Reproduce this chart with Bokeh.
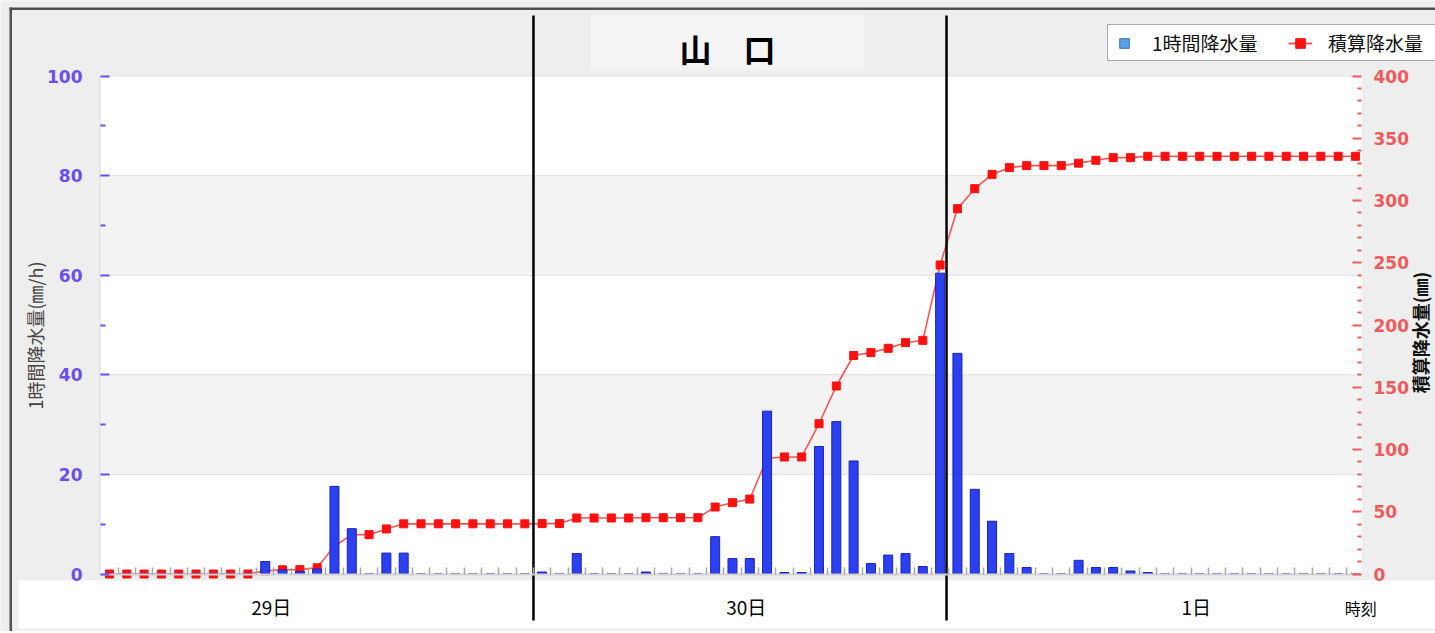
import math
from bokeh.plotting import figure
from bokeh.models import (Range1d, LinearAxis, FixedTicker, BoxAnnotation, Label, Legend,
                          LegendItem, ColumnDataSource)
from bokeh.core.properties import value
from bokeh.embed import file_html
from bokeh.resources import INLINE

# ---------------- data ----------------
hours = list(range(73))  # hourly slots from 29日 01時
hourly_mm = [0, 0, 0, 0, 0, 0, 0, 0, 0, 2.5,
             0.8, 0.5, 1.0, 17.6, 9.1, 0, 4.2, 4.2, 0, 0,
             0, 0, 0, 0, 0, 0.4, 0, 4.1, 0, 0,
             0, 0.4, 0, 0, 0, 7.5, 3.1, 3.1, 32.7, 0.3,
             0.3, 25.6, 30.6, 22.7, 2.1, 3.8, 4.1, 1.5, 60.4, 44.3,
             17.0, 10.6, 4.1, 1.3, 0, 0, 2.75, 1.3, 1.3, 0.6,
             0.3, 0, 0, 0, 0, 0, 0, 0, 0, 0,
             0, 0, 0]
cumulative_mm = [0, 0, 0, 0, 0, 0, 0, 0, 0, 2.5,
                 3.4, 3.5, 5.0, 22.4, 31.5, 31.6, 36.2, 40.3, 40.3, 40.3,
                 40.3, 40.3, 40.3, 40.3, 40.3, 40.5, 40.5, 45.0, 45.0, 45.0,
                 45.0, 45.2, 45.2, 45.2, 45.2, 53.8, 57.3, 60.2, 93.0, 94.0,
                 94.0, 120.7, 151.0, 175.5, 177.8, 181.3, 185.8, 187.7, 248.2, 293.4,
                 309.5, 321.0, 326.4, 328.0, 328.0, 328.0, 330.0, 332.3, 334.4, 334.4,
                 335.5, 335.5, 335.5, 335.5, 335.5, 335.5, 335.5, 335.5, 335.5, 335.5,
                 335.5, 335.5, 335.5]
hour_edges = [h + 0.5 for h in hours[:-1]]
left_ticks = [0, 20, 40, 60, 80, 100]
left_minor = [10, 30, 50, 70, 90]
right_ticks = [0, 50, 100, 150, 200, 250, 300, 350, 400]
right_minor = [v for v in range(0, 401, 10) if v % 50]
day_labels = ["29日", "30日", "1日"]
day_label_x = [9.35, 36.8, 62.8]
time_label = ["時刻"]
time_label_x = [72.3]
divider_x = [24.5, 48.37]
title_text = "山　口"
left_axis_title = "1時間降水量(㎜/h)"
right_axis_title = "積算降水量(㎜)"
legend_labels = ["1時間降水量", "積算降水量"]

# ---------------- geometry (style) ----------------
W, H = 1435, 631           # canvas at page (0, 0)
X0, X1 = -0.52, 72.35      # data x at plot-area left/right edges
PL, PR = 100.0, 1361.0     # page x of plot-area edges
PPX = (PR - PL) / (X1 - X0)
PZ, PT = 573.5, 75.5       # page y of 0 and 100
PPY = (PZ - PT) / 100.0


def dx(page_x):
    return X0 + (page_x - PL) / PPX


def dy(page_y):
    return (PZ - page_y) / PPY


BG = "#eeeeee"
BAND = "#f3f3f3"
BAR_FILL, BAR_LINE = "#2b40f0", "#1a22b8"
RED_LINE, RED_MARK = "#ff5454", "#ff1010"
LBLUE = "#6a4ff0"
LRED = "#f05a5a"
CJK = "Noto Sans CJK JP"
NAN = float("nan")

p = figure(width=W, height=H, x_range=Range1d(dx(0), dx(W)),
           y_range=Range1d(dy(H), dy(0)), x_axis_type=None, y_axis_type=None,
           min_border=0, outline_line_color=None, toolbar_location=None,
           background_fill_color=BG, border_fill_color=BG, output_backend="svg")
p.extra_y_ranges = {"cum": Range1d(dy(H) * 4, dy(0) * 4)}


def box(**kw):
    b = BoxAnnotation(fill_alpha=1, line_color=None, level="underlay", **kw)
    p.add_layout(b)
    return b


# outer frame of the picture (top and left edges)
box(top=dy(7), bottom=dy(9.5), left=dx(9), right=None, fill_color="#505050")
box(left=dx(9), right=dx(11.5), top=dy(7), bottom=None, fill_color="#505050")
# title panel
box(left=dx(590), right=dx(864), top=dy(15), bottom=dy(70), fill_color="#f4f4f4")
# plot area with alternating bands
box(left=X0, right=X1, bottom=0, top=100, fill_color="white")
for lo, hi in zip(left_ticks[1::2], left_ticks[2::2]):
    box(left=X0, right=X1, bottom=lo, top=hi, fill_color=BAND)
# thin edge on the left of the plot area
box(left=X0 - 0.06, right=X0, bottom=0, top=100, fill_color="#dcdcdc")
# day-label strip
box(left=dx(18), right=None, top=dy(580), bottom=dy(628), fill_color="white")

# grid lines
gy = left_ticks[1:]
p.segment(x0=[X0] * len(gy), x1=[X1] * len(gy), y0=gy, y1=gy, line_color="#e2e2e2",
          line_width=1)

src = ColumnDataSource(dict(h=hours, rain=hourly_mm, cum=cumulative_mm))
p.line("h", "cum", source=src, y_range_name="cum", line_color=RED_LINE, line_width=1.6)
p.scatter("h", "cum", source=src, y_range_name="cum", marker="square", size=8,
          fill_color=RED_MARK, line_color=RED_MARK)
p.vbar(x="h", top="rain", bottom=0, width=0.52, source=src, fill_color=BAR_FILL,
       line_color=BAR_LINE, line_width=1)

# black divider lines
p.segment(x0=divider_x, x1=divider_x, y0=[dy(15)] * len(divider_x),
          y1=[dy(620)] * len(divider_x), line_color="black", line_width=2.5)

# axes
yl = LinearAxis(fixed_location=X0, bounds=(-4.2, 100),
                ticker=FixedTicker(ticks=left_ticks, minor_ticks=left_minor),
                axis_label=left_axis_title, axis_label_text_font=CJK,
                axis_label_text_font_size="18px", axis_label_text_font_style="normal",
                axis_label_text_color="#444444", axis_label_standoff=-4,
                major_label_text_font="DejaVu Sans", major_label_text_font_style="bold",
                major_label_text_font_size="17px", major_label_text_color=LBLUE,
                major_label_standoff=18, axis_line_color=None,
                major_tick_in=9, major_tick_out=0, minor_tick_in=5, minor_tick_out=0,
                major_tick_line_color=LBLUE, minor_tick_line_color=LBLUE,
                major_tick_line_width=2, minor_tick_line_width=2)
p.add_layout(yl, "left")

yr = LinearAxis(y_range_name="cum", fixed_location=X1, bounds=(0, 400),
                ticker=FixedTicker(ticks=right_ticks, minor_ticks=right_minor),
                major_label_text_font="DejaVu Sans", major_label_text_font_style="bold",
                major_label_text_font_size="17px", major_label_text_color=LRED,
                major_label_standoff=12, axis_line_color=None,
                major_tick_in=9, major_tick_out=0, minor_tick_in=4, minor_tick_out=0,
                major_tick_line_color=LRED, minor_tick_line_color=LRED,
                major_tick_line_width=2, minor_tick_line_width=2)
p.add_layout(yr, "right")
# right axis title, reading bottom-to-top as in the original
p.add_layout(Label(x=dx(1419), y=dy(332), text=right_axis_title, angle=math.pi / 2,
                   text_font=CJK, text_font_style="bold", text_font_size="18px",
                   text_color="#111111", text_align="center", text_baseline="middle"))

xa = LinearAxis(fixed_location=0, bounds=(X0, X1),
                ticker=FixedTicker(ticks=[], minor_ticks=hour_edges),
                major_tick_in=0, major_tick_out=0, minor_tick_in=7, minor_tick_out=0,
                minor_tick_line_color="#a8a8a8", minor_tick_line_width=1.5,
                axis_line_color="#d4d4d4", axis_line_width=2)
p.add_layout(xa, "below")

# texts
p.add_layout(Label(x=dx(727), y=dy(47), text=title_text, text_font=CJK,
                   text_font_style="bold", text_font_size="32px", text_color="black",
                   text_align="center", text_baseline="middle"))
p.text(x=day_label_x, y=[dy(606)] * len(day_label_x), text=day_labels, text_font=value(CJK),
       text_font_size="19px", text_color="black", text_align="center",
       text_baseline="middle")
p.text(x=time_label_x, y=[dy(607)] * len(time_label_x), text=time_label, text_font=value(CJK),
       text_font_size="16px", text_color="black", text_align="center",
       text_baseline="middle")

# legend (legend-only swatches, no data points)
leg_bar = p.scatter(x=[NAN], y=[NAN], marker="square", size=10, fill_color="#5b9ee8",
                    line_color="#3a70c0")
leg_line = p.line(x=[NAN, NAN], y=[NAN, NAN], line_color=RED_LINE, line_width=2)
leg_mark = p.scatter(x=[NAN], y=[NAN], marker="square", size=9, fill_color=RED_MARK,
                     line_color=RED_MARK)
legend = Legend(items=[LegendItem(label=legend_labels[0], renderers=[leg_bar]),
                       LegendItem(label=legend_labels[1], renderers=[leg_line, leg_mark])],
                orientation="horizontal", location=(1107, H - 61),
                label_text_font=CJK, label_text_font_size="19px", label_text_color="#111111",
                label_standoff=16, spacing=30, padding=4, margin=0, label_width=106,
                glyph_width=24, glyph_height=24,
                border_line_color="#555555", border_line_width=1.5,
                background_fill_color="white", background_fill_alpha=1)
p.add_layout(legend)

open("out.html", "w").write(file_html(p, INLINE))
